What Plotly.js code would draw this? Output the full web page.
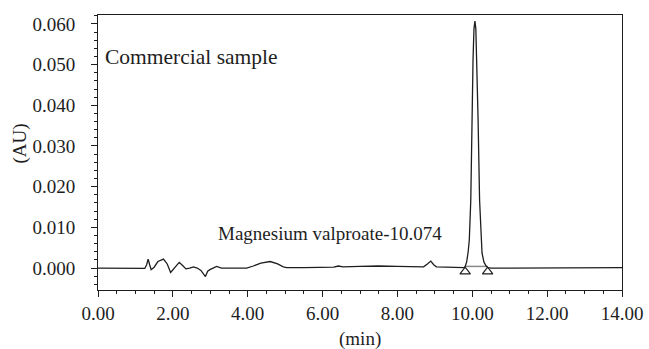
<!DOCTYPE html>
<html>
<head>
<meta charset="utf-8">
<script src="https://cdn.plot.ly/plotly-3.0.1.min.js"></script>
<style>html,body{margin:0;padding:0;background:#fff;}#chart{width:649px;height:349px;}</style>
</head>
<body>
<div id="chart"></div>
<script>
// Retention time (min)
const timeMin = [
  0.00, 0.50, 1.00, 1.25, 1.30, 1.34, 1.38, 1.42, 1.50, 1.60, 1.75, 1.85, 1.94, 2.05, 2.17, 2.26, 2.35,
  2.45, 2.55, 2.65, 2.75, 2.87, 2.93, 2.99, 3.08, 3.17, 3.30, 3.60, 3.97, 4.15, 4.35, 4.60, 4.80, 4.95,
  5.04, 5.50, 6.00, 6.30, 6.42, 6.55, 7.00, 7.50, 8.00, 8.50, 8.70, 8.80, 8.89, 8.97, 9.04, 9.30, 9.60,
  9.78, 9.81, 9.85, 9.89, 9.92, 9.96, 9.99, 10.02, 10.045, 10.07, 10.095, 10.12, 10.155, 10.195, 10.235,
  10.26, 10.31, 10.37, 10.42, 10.50, 11.00, 12.00, 13.00, 14.00
];
// Absorbance (AU)
const absorbance = [
  0.0000, -0.0001, -0.0001, -0.0001, 0.0008, 0.0022, 0.0008, -0.0004, 0.0002, 0.0016, 0.0022, 0.0010, -0.0011, 0.0002, 0.0014, 0.0006, -0.0002,
  0.0000, 0.0003, 0.0000, -0.0006, -0.0021, -0.0008, -0.0004, 0.0000, 0.0004, 0.0000, 0.0000, 0.0000, 0.0005, 0.0012, 0.0016, 0.0010, 0.0003,
  0.0001, 0.0001, 0.0002, 0.0002, 0.0005, 0.0003, 0.0004, 0.0005, 0.0004, 0.0003, 0.0003, 0.0010, 0.0017, 0.0008, 0.0003, 0.0002, 0.0001,
  0.0001, 0.0004, 0.0015, 0.0040, 0.0069, 0.0167, 0.0364, 0.0512, 0.0588, 0.0607, 0.0588, 0.0512, 0.0364, 0.0167, 0.0069,
  0.0037, 0.0015, 0.0005, 0.0001, 0.0000, 0.0000, 0.0000, 0.0001, 0.0001
];
// Peak integration start / end markers
const peakBoundsTime = [9.81, 10.41];
const peakBoundsMarker = [-0.0009, -0.0009];
const peakBaseline = [0.0004, 0.0004];

const sampleLabel = "Commercial sample";
const peakLabel = "Magnesium valproate-10.074";
const xTickVals = [0, 2, 4, 6, 8, 10, 12, 14];
const yTickVals = [0, 0.01, 0.02, 0.03, 0.04, 0.05, 0.06];

const ink = "#1e1e1e";
const serif = "'Liberation Serif', 'Times New Roman', serif";

const traces = [
  {x: peakBoundsTime, y: peakBaseline, mode: "lines", line: {color: "#8a8a8a", width: 1.5}, hoverinfo: "skip"},
  {x: timeMin, y: absorbance, mode: "lines", line: {color: ink, width: 1.3}},
  {x: peakBoundsTime, y: peakBoundsMarker, mode: "markers",
   marker: {symbol: "triangle-up-open", size: 9, color: ink, line: {width: 1.2, color: ink}}}
];

const axisCommon = {
  showgrid: false, zeroline: false, showline: true, mirror: true,
  linecolor: ink, linewidth: 1, ticks: "outside", ticklen: 6, tickwidth: 1, tickcolor: ink,
  tickfont: {family: serif, size: 19, color: ink}
};

const layout = {
  width: 649, height: 349,
  margin: {l: 98, r: 27, t: 15, b: 59},
  paper_bgcolor: "#fff", plot_bgcolor: "#fff",
  showlegend: false,
  font: {family: serif, color: ink},
  xaxis: Object.assign({}, axisCommon, {
    range: [0, 14], tickvals: xTickVals, tickformat: ".2f",
    minor: {dtick: 0.5, tick0: 0, ticks: "outside", ticklen: 3, tickwidth: 1, tickcolor: ink}
  }),
  yaxis: Object.assign({}, axisCommon, {
    range: [-0.0054, 0.0622], tickvals: yTickVals, tickformat: ".3f", ticklabelstandoff: 12,
    minor: {dtick: 0.002, tick0: 0, ticks: "outside", ticklen: 3, tickwidth: 1, tickcolor: ink}
  }),
  annotations: [
    {text: sampleLabel, xref: "x", yref: "y", x: 0.13, y: 0.0518, xanchor: "left", yanchor: "middle",
     showarrow: false, font: {family: serif, size: 21.5, color: ink}},
    {text: peakLabel, xref: "x", yref: "y", x: 3.15, y: 0.0084, xanchor: "left", yanchor: "middle",
     showarrow: false, font: {family: serif, size: 19, color: ink}},
    {text: "(AU)", xref: "paper", yref: "paper", x: -0.149, y: 0.532, xanchor: "center", yanchor: "middle",
     textangle: -90, showarrow: false, font: {family: serif, size: 19, color: ink}},
    {text: "(min)", xref: "paper", yref: "paper", x: 0.5, y: -0.178, xanchor: "center", yanchor: "middle",
     showarrow: false, font: {family: serif, size: 19, color: ink}}
  ]
};

Plotly.newPlot("chart", traces, layout, {displayModeBar: false, staticPlot: true});
</script>
</body>
</html>
